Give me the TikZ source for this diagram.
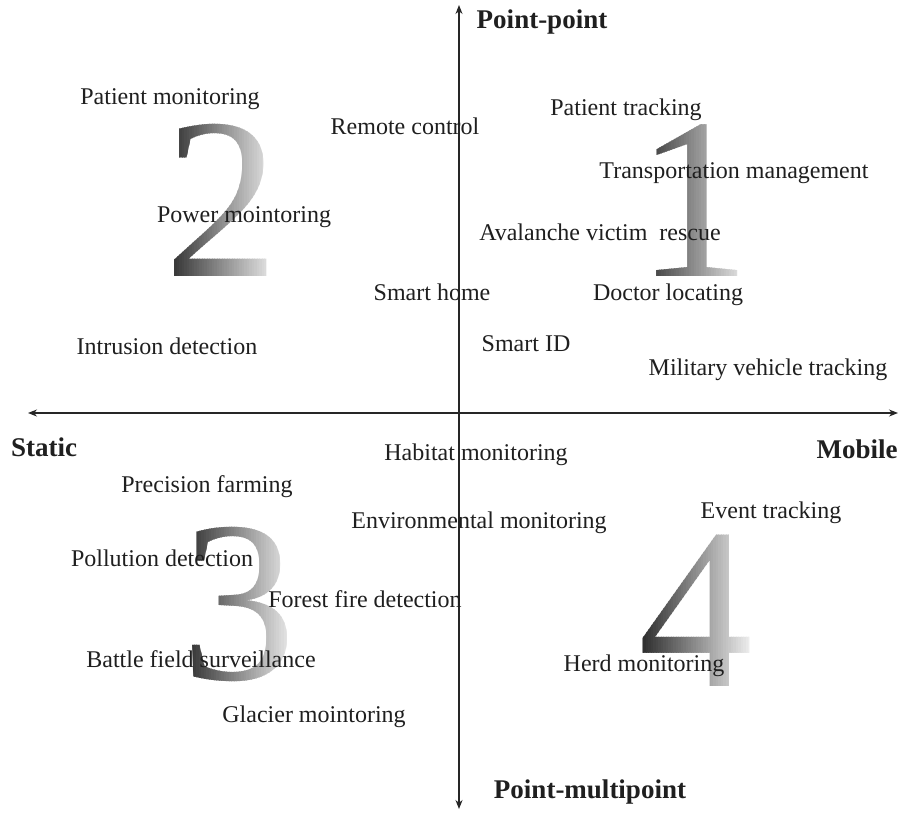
\documentclass[tikz,border=0pt]{standalone}
\usepackage{fontspec}
\setmainfont{Liberation Serif}
\usetikzlibrary{arrows.meta}

% large quadrant numeral
\newcommand\bignumeral[1]{\fontsize{230pt}{230pt}\selectfont #1}

% numeral #4 named #1 at (#2,#3), shaded dark to light from left to right
% by drawing it through narrow vertical clipping strips
\newcommand\gradnumeral[4]{%
  \foreach \k in {0,...,47}{%
    \pgfmathsetmacro\shadepct{86-82*\k/47}%
    \begin{scope}
      \clip ({#2-60+2.5*\k},{#3-95}) rectangle ({#2-60+2.5*\k+2.7},{#3+95});
      \node[inner sep=0pt, anchor=base, text=black!\shadepct] (#1-\k) at (#2,#3+78) {\bignumeral{#4}};
    \end{scope}
  }%
}

\begin{document}
\begin{tikzpicture}[x=1pt,y=-1pt,
  lbl/.style={anchor=base, inner sep=0pt, font=\fontsize{24pt}{28pt}\selectfont, text=black!88},
  axislbl/.style={anchor=base, inner sep=0pt, font=\fontsize{27pt}{32pt}\selectfont\bfseries, text=black!88},
  axis/.style={line width=1.2pt, draw=black!85,
    {Stealth[length=9pt,width=7pt]}-{Stealth[length=9pt,width=7pt]}}]

\fill[white] (0,0) rectangle (902,812);
\useasboundingbox (0,0) rectangle (902,812);

% quadrant numerals
\gradnumeral{one}{694}{198}{1}
\gradnumeral{two}{222}{198}{2}
\gradnumeral{three}{239}{601}{3}
\gradnumeral{four}{696}{608}{4}

% axes
\coordinate (west)  at (28,413);
\coordinate (east)  at (898,413);
\coordinate (north) at (459,5);
\coordinate (south) at (459,809);
\draw[axis] (west) -- (east);
\draw[axis] (south) -- (north);

% axis labels
\node[axislbl] (pp)     at (542,28)  {Point-point};
\node[axislbl] (static) at (44,456)  {Static};
\node[axislbl] (mobile) at (857,458) {Mobile};
\node[axislbl] (pmp)    at (590,798) {Point-multipoint};

% applications
\node[lbl] (patmon)  at (170,104) {Patient monitoring};
\node[lbl] (remote)  at (405,134) {Remote control};
\node[lbl] (pattrk)  at (626,115) {Patient tracking};
\node[lbl] (transp)  at (734,178) {Transportation management};
\node[lbl] (power)   at (244,222) {Power mointoring};
\node[lbl] (aval)    at (600,240) {Avalanche victim\ \ rescue};
\node[lbl] (smhome)  at (432,300) {Smart home};
\node[lbl] (doctor)  at (668,300) {Doctor locating};
\node[lbl] (intrus)  at (167,354) {Intrusion detection};
\node[lbl] (smid)    at (526,351) {Smart ID};
\node[lbl] (milit)   at (768,375) {Military vehicle tracking};
\node[lbl] (habitat) at (476,460) {Habitat monitoring};
\node[lbl] (precis)  at (207,492) {Precision farming};
\node[lbl] (environ) at (479,528) {Environmental monitoring};
\node[lbl] (event)   at (771,518) {Event tracking};
\node[lbl] (pollut)  at (162,566) {Pollution detection};
\node[lbl] (forest)  at (365,607) {Forest fire detection};
\node[lbl] (battle)  at (201,667) {Battle field surveillance};
\node[lbl] (herd)    at (644,671) {Herd monitoring};
\node[lbl] (glacier) at (314,722) {Glacier mointoring};
\end{tikzpicture}
\end{document}
